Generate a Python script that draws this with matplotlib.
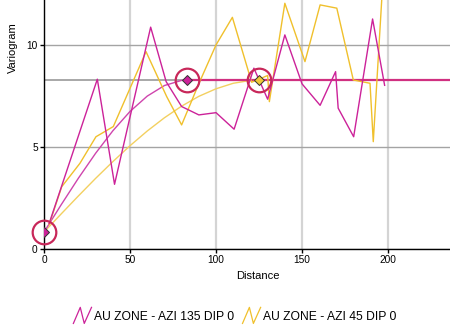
import matplotlib
matplotlib.use("Agg")
import matplotlib.pyplot as plt
from matplotlib.lines import Line2D
from matplotlib.legend_handler import HandlerBase

plt.rcParams['font.family'] = ['Liberation Sans', 'DejaVu Sans']

MAGENTA = '#cc2299'
MAGENTA_MODEL = '#cf45ad'
YELLOW = '#f0c02c'
YELLOW_MODEL = '#f3d060'
RING = '#c8285a'

# experimental variogram, AZI 135
az135_lag = [3, 31, 41, 62, 71, 80, 90, 100, 110.5, 122, 130, 140, 150, 160.5, 169.5, 171, 180, 191, 198]
az135_val = [1.25, 8.32, 3.17, 10.87, 8.2, 6.98, 6.57, 6.68, 5.87, 8.86, 7.34, 10.49, 8.09, 7.04, 8.69, 6.9, 5.5, 11.27, 8.02]

# experimental variogram, AZI 45
az45_lag = [3, 10.3, 20.9, 30.2, 40.3, 59.3, 71.3, 80, 90, 100, 109.5, 120.7, 130, 131, 140, 151.7, 160.5, 170.2, 179.8, 189.5, 191.4, 199]
az45_val = [1.2, 3.05, 4.2, 5.5, 6.0, 9.67, 7.47, 6.08, 8.1, 10.0, 11.35, 8.17, 8.5, 7.22, 12.04, 9.18, 11.96, 11.8, 8.28, 8.12, 5.26, 16.0]

# fitted model curves
model135_lag = [0, 10, 20, 30, 40, 50, 60, 70, 80, 83, 236]
model135_val = [0.83, 2.17, 3.47, 4.69, 5.79, 6.74, 7.49, 8.01, 8.26, 8.27, 8.27]
model45_lag = [0, 10, 20, 30, 40, 50, 60, 70, 80, 90, 100, 110, 120, 125, 236]
model45_val = [0.83, 1.72, 2.60, 3.46, 4.28, 5.06, 5.78, 6.43, 7.00, 7.48, 7.85, 8.12, 8.26, 8.27, 8.27]

sill = 8.27
nugget = 0.83
range135 = 83
range45 = 125

labels = ["AU ZONE - AZI 135 DIP 0", "AU ZONE - AZI 45 DIP 0"]


class ZigzagHandler(HandlerBase):
  def create_artists(self, legend, orig_handle, xdescent, ydescent, width, height, fontsize, trans):
    xs = [-xdescent + width * f for f in (0, 0.38, 0.6, 1.0)]
    ys = [-ydescent + height * f for f in (-0.45, 1.45, -0.45, 1.45)]
    line = Line2D(xs, ys, color=orig_handle.get_color(), lw=0.9)
    line.set_transform(trans)
    return [line]


fig = plt.figure(figsize=(4.5, 3.34), dpi=100)
ax = fig.add_axes([44 / 450, 85 / 334, 406 / 450, 249 / 334])

ax.set_xlim(0, 236)
ax.set_ylim(0, 12.2)
ax.set_xticks([0, 50, 100, 150, 200])
ax.set_yticks([0, 5, 10])
ax.xaxis.grid(True, color='#d4d4d4', lw=1.6)
ax.yaxis.grid(True, color='#a4a4a4', lw=1)
ax.set_axisbelow(True)

ax.axhline(sill, color='#999999', lw=1.2, zorder=1)

ax.plot(model45_lag, model45_val, color=YELLOW_MODEL, lw=1, zorder=2)
ax.plot(model135_lag, model135_val, color=MAGENTA_MODEL, lw=1, zorder=2)
ax.plot([range135, 236], [sill, sill], color='#d03080', lw=1.6, zorder=2)

ax.plot(az45_lag, az45_val, color=YELLOW, lw=1, zorder=3)
ax.plot(az135_lag, az135_val, color=MAGENTA, lw=1, zorder=3)

# model control points
ax.plot([0], [nugget], marker='D', ms=5.5, mfc=MAGENTA, mec='#333333', mew=0.7, ls='none', zorder=5)
ax.plot([range135], [sill], marker='D', ms=5.5, mfc=MAGENTA, mec='#333333', mew=0.7, ls='none', zorder=5)
ax.plot([range45], [sill], marker='D', ms=5.5, mfc='#f0c838', mec='#333333', mew=0.7, ls='none', zorder=5)
ax.plot([0, range135, range45], [nugget, sill, sill], marker='o', ms=17, mfc='none', mec=RING,
        mew=1.6, ls='none', clip_on=False, zorder=6)

for side in ['top', 'right']:
  ax.spines[side].set_visible(False)
for side in ['left', 'bottom']:
  ax.spines[side].set_color('black')
  ax.spines[side].set_linewidth(1)
  ax.spines[side].set_zorder(4)

ax.tick_params(axis='both', length=3, width=1, pad=1.5, labelsize=7.3, color='black')

ax.set_xlabel("Distance", fontsize=8)
ax.xaxis.set_label_coords(0.527, -0.088)
ax.set_ylabel("Variogram", fontsize=8, va='center')
ax.yaxis.set_label_coords(-0.076, 0.81)

handles = [Line2D([], [], color=MAGENTA), Line2D([], [], color=YELLOW)]
fig.legend(handles, labels, loc='center', bbox_to_anchor=(0.522, 0.052), ncol=2, frameon=False,
           fontsize=8.7, handlelength=1.5, handletextpad=0.2, columnspacing=0.7,
           handler_map={Line2D: ZigzagHandler()})

fig.savefig("out.png", dpi=100)
